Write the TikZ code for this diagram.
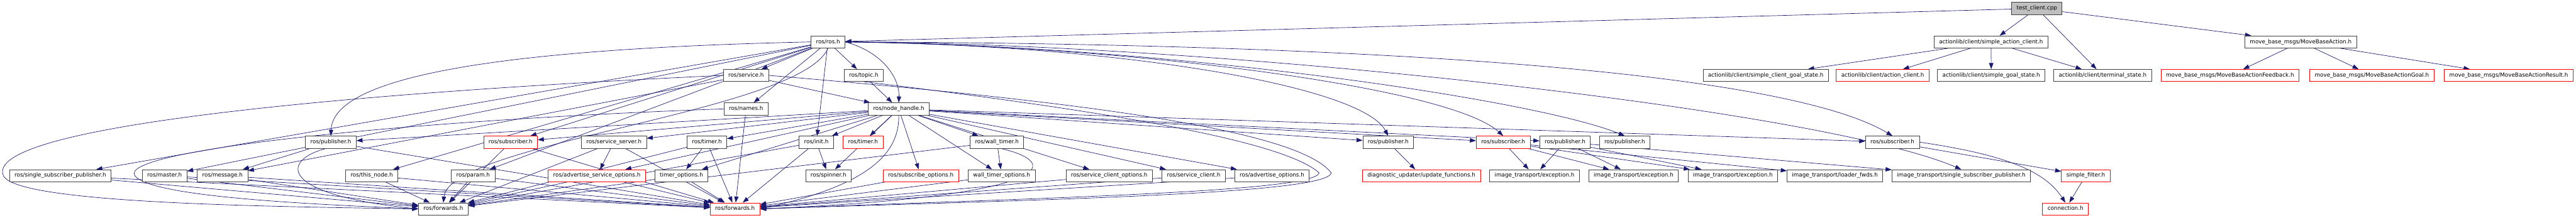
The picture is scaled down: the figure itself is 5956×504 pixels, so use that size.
\documentclass[tikz,border=0pt]{standalone}
\usepackage{fontspec}
\setmainfont{DejaVu Sans}
\usetikzlibrary{arrows.meta,backgrounds}
\definecolor{edgeblue}{HTML}{191970}
\definecolor{framegrey}{HTML}{404040}
\definecolor{rootgrey}{HTML}{BFBFBF}
\tikzset{
  hdr/.style={draw=framegrey,line width=1.1pt,fill=white,minimum height=28pt,
    inner xsep=11.5pt,inner ysep=0pt,text height=9.7pt,text depth=3pt,
    font=\fontsize{12.8pt}{15pt}\selectfont},
  cut/.style={hdr,draw=red},
  root/.style={hdr,fill=rootgrey},
  inc/.style={edgeblue,line width=1pt,-{Triangle[length=14pt,width=10pt]}}
}
\begin{document}
\begin{tikzpicture}[x=1pt,y=-1pt]
\def\ra{19.5}
\def\rb{97}
\def\rc{174.5}
\def\rd{252}
\def\re{329}
\def\rf{406.5}
\def\rg{483.5}
\useasboundingbox (0,0) rectangle (5956,504);
% top
\node[root] (tc) at (4709.5,\ra) {test\_client.cpp};
\node[hdr] (rosh) at (1914.5,\rb) {ros/ros.h};
\node[hdr] (sac) at (4603.5,\rb) {actionlib/client/simple\_action\_client.h};
\node[hdr] (mba) at (5319.5,\rb) {move\_base\_msgs/MoveBaseAction.h};
% second level
\node[hdr] (srv) at (1725,\rc) {ros/service.h};
\node[hdr] (topic) at (1997,\rc) {ros/topic.h};
\node[hdr] (scgs) at (4082.5,\rc) {actionlib/client/simple\_client\_goal\_state.h};
\node[cut] (acl) at (4353,\rc) {actionlib/client/action\_client.h};
\node[hdr] (sgs) at (4604,\rc) {actionlib/client/simple\_goal\_state.h};
\node[hdr] (term) at (4861.5,\rc) {actionlib/client/terminal\_state.h};
\node[cut] (fb) at (5156,\rc) {move\_base\_msgs/MoveBaseActionFeedback.h};
\node[cut] (goal) at (5484,\rc) {move\_base\_msgs/MoveBaseActionGoal.h};
\node[cut] (res) at (5800.5,\rc) {move\_base\_msgs/MoveBaseActionResult.h};
\node[hdr] (names) at (1725,\rd) {ros/names.h};
\node[hdr] (nh) at (2078,\rd) {ros/node\_handle.h};
% middle
\node[hdr] (pubA) at (765,\re) {ros/publisher.h};
\node[cut] (subA) at (1180.5,\re) {ros/subscriber.h};
\node[hdr] (ssrv) at (1419.5,\re) {ros/service\_server.h};
\node[hdr] (timer) at (1634.5,\re) {ros/timer.h};
\node[hdr] (init) at (1887.5,\re) {ros/init.h};
\node[cut] (timerB) at (1995.5,\re) {ros/timer.h};
\node[hdr] (wtimer) at (2305,\re) {ros/wall\_timer.h};
\node[hdr] (pubB) at (3209.5,\re) {ros/publisher.h};
\node[cut] (subB) at (3475.5,\re) {ros/subscriber.h};
\node[hdr] (pubC) at (3618.5,\re) {ros/publisher.h};
\node[hdr] (pubD) at (3756.5,\re) {ros/publisher.h};
\node[hdr] (subC) at (4375.5,\re) {ros/subscriber.h};
% lower
\node[hdr] (ssp) at (139.5,\rf) {ros/single\_subscriber\_publisher.h};
\node[hdr] (master) at (380.5,\rf) {ros/master.h};
\node[hdr] (msg) at (514.5,\rf) {ros/message.h};
\node[hdr] (thisn) at (859.5,\rf) {ros/this\_node.h};
\node[hdr] (param) at (1094,\rf) {ros/param.h};
\node[cut] (aso) at (1380,\rf) {ros/advertise\_service\_options.h};
\node[hdr] (topt) at (1575.5,\rf) {timer\_options.h};
\node[hdr] (spin) at (1915.5,\rf) {ros/spinner.h};
\node[cut] (subo) at (2129,\rf) {ros/subscribe\_options.h};
\node[hdr] (wto) at (2316,\rf) {wall\_timer\_options.h};
\node[hdr] (sco) at (2564.5,\rf) {ros/service\_client\_options.h};
\node[hdr] (scl) at (2760,\rf) {ros/service\_client.h};
\node[hdr] (ado) at (2941,\rf) {ros/advertise\_options.h};
\node[cut] (duf) at (3286.5,\rf) {diagnostic\_updater/update\_functions.h};
\node[hdr] (iteA) at (3548,\rf) {image\_transport/exception.h};
\node[hdr] (iteB) at (3777,\rf) {image\_transport/exception.h};
\node[hdr] (iteC) at (4006.5,\rf) {image\_transport/exception.h};
\node[hdr] (itlf) at (4242.5,\rf) {image\_transport/loader\_fwds.h};
\node[hdr] (itssp) at (4534.5,\rf) {image\_transport/single\_subscriber\_publisher.h};
\node[cut] (sflt) at (4822.5,\rf) {simple\_filter.h};
% bottom
\node[hdr] (fwdA) at (1025,\rg) {ros/forwards.h};
\node[cut] (fwdB) at (1699.5,\rg) {ros/forwards.h};
\node[cut] (conn) at (4775.5,\rg) {connection.h};
\begin{scope}[on background layer]
% test_client.cpp and actionlib
\foreach \t in {rosh,sac,term,mba} \draw[inc] (tc) -- (\t);
\foreach \t in {scgs,acl,sgs,term} \draw[inc] (sac) -- (\t);
\foreach \t in {fb,goal,res} \draw[inc] (mba) -- (\t);
% ros/ros.h
\foreach \t in {srv,names,topic,init,ssp,master,thisn,param,subA}
  \draw[inc] (rosh) -- (\t);
\draw[inc] (rosh.west) .. controls (1200,112) and (770,170) .. (pubA.north);
\draw[inc] (rosh.east) .. controls (2040,120) and (2080,180) .. (nh.north);
\draw[inc] (rosh.east) .. controls (2600,105) and (3150,200) .. (pubB.north);
\draw[inc] (rosh.east) .. controls (2600,105) and (3350,200) .. (subB.north);
\draw[inc] (rosh.east) .. controls (2700,105) and (3550,230) .. (pubD.north);
\draw[inc] (rosh.east) .. controls (2800,100) and (4200,250) .. (itssp.north);
\draw[inc] (rosh.east) .. controls (3000,100) and (4100,150) .. (subC.north);
\draw[inc] (rosh.south) .. controls (1850,260) and (1040,330) .. (fwdA.north);
% service, topic, names
\draw[inc] (srv) -- (nh);
\draw[inc] (topic) -- (nh);
\draw[inc] (srv) -- (msg);
\draw[inc] (srv.west) .. controls (700,220) and (-40,300) .. (8,407)
  .. controls (40,470) and (600,478) .. (fwdA.west);
\draw[inc] (names.west) .. controls (900,280) and (270,350) .. (312,407)
  .. controls (350,455) and (700,472) .. (fwdA.west);
\draw[inc] (srv.east) .. controls (2500,235) and (3000,300) .. (3078,400)
  .. controls (3070,450) and (2400,462) .. (fwdB.east);
\draw[inc] (topic.south) .. controls (2500,250) and (2960,320) .. (3050,400)
  .. controls (3040,445) and (2400,458) .. (fwdB.east);
\draw[inc] (names) -- (fwdB);
% ros/node_handle.h
\foreach \t in {pubA,subA,ssrv,timer,init,timerB,wtimer,subo,wto,sco,scl,ado,
  aso,topt,spin,pubB,subB,pubC,subC}
  \draw[inc] (nh) -- (\t);
\draw[inc] (nh.south) .. controls (2080,360) and (2000,430) .. (fwdB.east);
% forwards
\foreach \s in {ssp,master,msg,thisn,param,subA,ssrv,aso,timer,topt,init,wtimer}
  \draw[inc] (\s) -- (fwdA);
\foreach \s in {ssp,master,msg,pubA,thisn,param,subA,ssrv,aso,timer,topt,init,
  subo,wto,sco,scl,ado}
  \draw[inc] (\s) -- (fwdB);
\draw[inc] (pubA.235) .. controls (650,370) and (640,450) .. (fwdA.west);
\draw[inc] (wtimer.-60) .. controls (2470,380) and (2420,455) .. (fwdB.east);
\draw[inc] (pubA) -- (msg);
\draw[inc] (ssrv) -- (aso);
\draw[inc] (timer) -- (topt);
\draw[inc] (init) -- (spin);
\draw[inc] (wtimer) -- (wto);
% image_transport side
\draw[inc] (pubB) -- (duf);
\foreach \t in {iteA,iteB,iteC,itlf} \draw[inc] (subB) -- (\t);
\foreach \t in {iteA,iteB,iteC,itssp} \draw[inc] (pubC) -- (\t);
\draw[inc] (subC) -- (sflt);
\draw[inc] (subC.east) .. controls (4650,360) and (4730,400) .. (conn.north);
\draw[inc] (sflt) -- (conn);
\end{scope}
\end{tikzpicture}
\end{document}
